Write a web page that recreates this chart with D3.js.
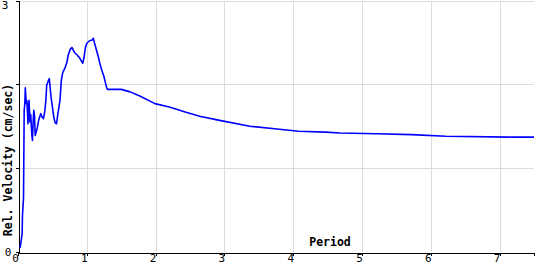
<!DOCTYPE html>
<html>
<head>
  <meta charset="UTF-8">
  <style>
    body { margin: 0; background: #fff; }
    svg { display: block; }
    .grid line { stroke: #dcdcdc; stroke-width: 1px; shape-rendering: crispEdges; }
    .tick-label { font-family: "DejaVu Sans Mono", monospace; font-size: 11px; fill: #000; }
    .title { font-family: "DejaVu Sans Mono", monospace; font-size: 11.5px; font-weight: bold; fill: #000; }
  </style>
</head>
<body>
<svg id="chart"></svg>
<script src="https://d3js.org/d3.v7.min.js"></script>
<script>

// response spectrum
var periods = [0.03, 0.04, 0.06, 0.065, 0.08, 0.09, 0.1, 0.106, 0.12, 0.13, 0.145, 0.155, 0.16, 0.174, 0.185,
               0.2, 0.21, 0.22, 0.23, 0.24, 0.25, 0.28, 0.3, 0.33, 0.35, 0.37, 0.39, 0.405, 0.417, 0.44, 0.455,
               0.465, 0.48, 0.5, 0.52, 0.54, 0.56, 0.58, 0.61, 0.63, 0.65, 0.68, 0.71, 0.73, 0.76, 0.784, 0.82,
               0.86, 0.9, 0.94, 0.96, 0.98, 1.0, 1.04, 1.08, 1.095, 1.11, 1.13, 1.17, 1.19, 1.21, 1.25, 1.27,
               1.29, 1.3, 1.5, 1.63, 1.77, 1.99, 2.2, 2.43, 2.64, 2.93, 3.37, 3.73, 4.08, 4.47, 4.68, 5.21,
               5.72, 6.22, 7.22, 7.5];
var velocities = [0.05, 0.1, 0.22, 0.44, 0.64, 1.69, 1.78, 1.96, 1.77, 1.8, 1.53, 1.72, 1.81, 1.55, 1.64,
                  1.41, 1.33, 1.55, 1.69, 1.62, 1.39, 1.48, 1.57, 1.65, 1.61, 1.59, 1.68, 1.81, 1.99, 2.04, 2.07,
                  1.98, 1.85, 1.73, 1.61, 1.54, 1.53, 1.65, 1.81, 2.05, 2.14, 2.19, 2.26, 2.35, 2.42, 2.44, 2.38,
                  2.35, 2.31, 2.25, 2.32, 2.44, 2.49, 2.52, 2.53, 2.55, 2.5, 2.44, 2.32, 2.25, 2.19, 2.09, 2.02,
                  1.96, 1.94, 1.94, 1.91, 1.86, 1.77, 1.73, 1.67, 1.62, 1.57, 1.5, 1.47, 1.44, 1.43, 1.42, 1.41,
                  1.40, 1.38, 1.37, 1.37];

var xTicks = [0, 1, 2, 3, 4, 5, 6, 7];
var yGrid = [1, 2, 3];
var yLabels = [0, 3];

var xTitle = "Period";
var yTitle = "Rel. Velocity (cm/sec)";

let width = 540, height = 270;

let svg = d3.select("#chart")
    .attr("width", width)
    .attr("height", height);

let x = d3.scaleLinear().domain([0, 7.5]).range([18, 534]);
let y = d3.scaleLinear().domain([0, 3]).range([252, 0.5]);

// grid
svg.append("g").attr("class", "grid")
    .selectAll("line.v")
    .data(xTicks.filter(d => d > 0))
    .enter().append("line")
    .attr("x1", d => Math.round(x(d)) + 0.5).attr("x2", d => Math.round(x(d)) + 0.5)
    .attr("y1", y(3)).attr("y2", y(0));

svg.append("g").attr("class", "grid")
    .selectAll("line.h")
    .data(yGrid)
    .enter().append("line")
    .attr("x1", x(0)).attr("x2", x(7.5))
    .attr("y1", d => Math.round(y(d)) + 0.5).attr("y2", d => Math.round(y(d)) + 0.5);

// x axis
let xAxis = d3.axisBottom(x).tickValues(xTicks).tickSize(3).tickFormat(d3.format("d"));
let gx = svg.append("g")
    .attr("transform", "translate(0," + (y(0) + 0.5) + ")")
    .call(xAxis);
gx.select(".domain").attr("stroke", "#000").attr("shape-rendering", "crispEdges");
gx.selectAll(".tick line").attr("stroke", "#000").attr("shape-rendering", "crispEdges");
gx.selectAll(".tick text")
    .attr("class", "tick-label")
    .attr("font-family", null).attr("font-size", null)
    .attr("dx", "-3px")
    .attr("y", 2);

// y axis: small ticks, labels only at 0 and 3
let yAxis = d3.axisLeft(y).tickValues([1, 2]).tickSize(3).tickFormat("");
let gy = svg.append("g")
    .attr("transform", "translate(" + (x(0) + 0.5) + ",0)")
    .call(yAxis);
gy.select(".domain").attr("stroke", "#000").attr("shape-rendering", "crispEdges");
gy.selectAll(".tick line").attr("stroke", "#000").attr("shape-rendering", "crispEdges");

svg.append("g")
    .selectAll("text")
    .data(yLabels)
    .enter().append("text")
    .attr("class", "tick-label")
    .attr("x", d => d === 0 ? 8 : 5)
    .attr("y", d => d === 0 ? y(d) + 4 : 9)
    .attr("text-anchor", "middle")
    .text(d => d);

// the curve
let line = d3.line()
    .x((d, i) => x(periods[i]))
    .y(d => y(d));

svg.append("path")
    .datum(velocities)
    .attr("d", line)
    .attr("fill", "none")
    .attr("stroke", "#0000ff")
    .attr("stroke-width", 1.6)
    .attr("stroke-linejoin", "round");

// titles
svg.append("text")
    .attr("class", "title")
    .attr("x", 330)
    .attr("y", 246)
    .attr("text-anchor", "middle")
    .text(xTitle);

svg.append("text")
    .attr("class", "title")
    .attr("transform", "translate(12,160) rotate(-90)")
    .attr("text-anchor", "middle")
    .text(yTitle);

</script>
</body>
</html>
